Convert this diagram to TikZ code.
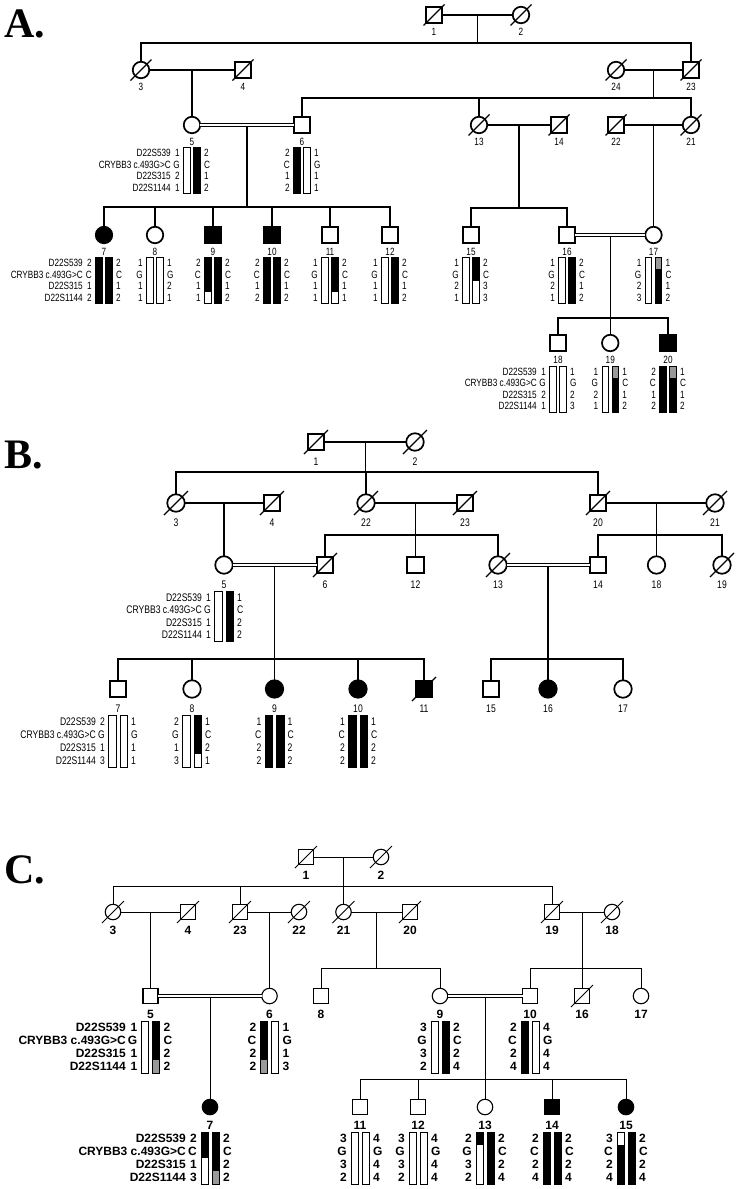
\documentclass[tikz,border=0pt]{standalone}
\usepackage{fontspec}
\setmainfont{Liberation Sans}
\newfontfamily\narf[FakeStretch=0.78]{Liberation Sans}
\newfontfamily\serf{Liberation Serif}
\usetikzlibrary{calc}
\definecolor{hg}{gray}{0.6}
\newcommand\bw{6.5}
\newcommand\bg{3.5}
\newcommand\ad{12}
\newcommand\hp[9]{%
  \foreach \hcol [count=\k from 0] in {#7}{\fill[\hcol] ({#2-\bg/2-\bw},{#3+\k*#4}) rectangle ({#2-\bg/2},{#3+(\k+1)*#4});}
  \foreach \hcol [count=\k from 0] in {#8}{\fill[\hcol] ({#2+\bg/2},{#3+\k*#4}) rectangle ({#2+\bg/2+\bw},{#3+(\k+1)*#4});}
  \draw[barline] ({#2-\bg/2-\bw},#3) rectangle ({#2-\bg/2},{#3+4*#4});
  \draw[barline] ({#2+\bg/2},#3) rectangle ({#2+\bg/2+\bw},{#3+4*#4});
  \foreach \a [count=\k from 0] in {#5}{\node[#9,anchor=east] (#1l\k) at ({#2-\ad},{#3+(\k+0.5)*#4}) {\a};}
  \foreach \a [count=\k from 0] in {#6}{\node[#9,anchor=west] (#1r\k) at ({#2+\ad},{#3+(\k+0.5)*#4}) {\a};}
}
\newcommand\mk[5]{%
  \foreach \a [count=\k from 0] in {D22S539,CRYBB3 c.493G>C,D22S315,D22S1144}{\node[#5,anchor=east] (#1m\k) at ({#2},{#3+(\k+0.5)*#4}) {\a};}
}
\newcommand\decd[3]{\draw[#1] ($(#2)+(-#3,#3)$) -- ($(#2)+(#3,-#3)$);}
\begin{document}
\begin{tikzpicture}[x=1pt,y=-1pt,
  ln/.style={line width=1.2pt},
  lnC/.style={line width=0.9pt},
  barline/.style={line width=0.6pt},
  symA/.style={draw,line width=1.7pt,inner sep=0pt,outer sep=0pt},
  mA/.style={symA,rectangle,minimum size=15.5pt},
  fA/.style={symA,circle,minimum size=16.5pt},
  mB/.style={symA,rectangle,minimum size=16.5pt},
  fB/.style={symA,circle,minimum size=17.5pt},
  symC/.style={draw,line width=1.1pt,inner sep=0pt,outer sep=0pt},
  mC/.style={symC,rectangle,minimum size=15pt},
  fC/.style={symC,circle,minimum size=15.5pt},
  aff/.style={fill=black},
  dbl/.style={double distance=2.2pt,line width=0.7pt},
  dbC/.style={double distance=2pt,line width=0.6pt},
  txA/.style={font=\narf\fontsize{10.5}{11}\selectfont,inner sep=0pt},
  txB/.style={font=\narf\fontsize{11}{11}\selectfont,inner sep=0pt},
  txC/.style={font=\bfseries\fontsize{12}{12}\selectfont,inner sep=0pt},
  big/.style={font=\serf\bfseries\fontsize{42}{42}\selectfont,inner sep=0pt,anchor=base west},
]
\fill[white] (0,0) rectangle (740,1189);
\useasboundingbox (0,0) rectangle (740,1189);

%%%%%%%%%%%%%%%% PANEL A
\node[big] (LA) at (4,37) {A.};
\node[mA] (A1) at (434,15) {};
\node[fA] (A2) at (521,15) {};
\node[fA] (A3) at (141,70) {};
\node[mA] (A4) at (243,70) {};
\node[fA] (A24) at (616,70) {};
\node[mA] (A23) at (691,70) {};
\node[fA] (A5) at (192,125) {};
\node[mA] (A6) at (302,125) {};
\node[fA] (A13) at (479,125) {};
\node[mA] (A14) at (559,125) {};
\node[mA] (A22) at (616,125) {};
\node[fA] (A21) at (691,125) {};
\node[fA,aff] (A7) at (104,235) {};
\node[fA] (A8) at (155,235) {};
\node[mA,aff] (A9) at (213,235) {};
\node[mA,aff] (A10) at (272,235) {};
\node[mA] (A11) at (330,235) {};
\node[mA] (A12) at (390,235) {};
\node[mA] (A15) at (471,235) {};
\node[mA] (A16) at (567,235) {};
\node[fA] (A17) at (653.5,235) {};
\node[mA] (A18) at (558,343) {};
\node[fA] (A19) at (610.25,343) {};
\node[mA,aff] (A20) at (668,343) {};
\foreach \n in {A1,A2,A3,A4,A24,A23,A13,A14,A22,A21} {\decd{ln}{\n}{10.5}}
\foreach \n/\t in {A1/1,A2/2,A3/3,A4/4,A24/24,A23/23,A5/5,A6/6,A13/13,A14/14,A22/22,A21/21,A7/7,A8/8,A9/9,A10/10,A11/11,A12/12,A15/15,A16/16,A17/17,A18/18,A19/19,A20/20}
  {\node[txA] (\n-id) at ($(\n)+(0,17)$) {\t};}
\coordinate (sA1) at (0,43);
\coordinate (sA2) at (0,98);
\coordinate (sA3) at (0,207);
\coordinate (sA4) at (0,208);
\coordinate (sA5) at (0,318);
\draw[ln] (A1) -- (A2);
\coordinate (mA12) at ($(A1)!.5!(A2)$);
\draw[ln] (mA12) -- (mA12 |- sA1);
\draw[ln] (A3.north) |- (A23 |- sA1) -- (A23.north);
\draw[ln] (A3) -- (A4);
\coordinate (mA34) at ($(A3)!.5!(A4)$);
\draw[ln] (mA34) -- (A5.north);
\draw[ln] (A24) -- (A23);
\coordinate (mA2423) at ($(A24)!.5!(A23)$);
\draw[ln] (mA2423) -- (mA2423 |- sA2);
\draw[ln] (A6.north) |- (A21 |- sA2) -- (A21.north);
\draw[ln] (A13.north) -- (A13 |- sA2);
\draw[dbl] (A5) -- (A6);
\coordinate (mA56) at ($(A5)!.5!(A6)+(0,1.8)$);
\draw[ln] (mA56) -- (mA56 |- sA3);
\draw[ln] (A7.north) |- (A12 |- sA3) -- (A12.north);
\foreach \n in {A8,A9,A10,A11} {\draw[ln] (\n.north) -- (\n |- sA3);}
\draw[ln] (A13) -- (A14);
\coordinate (mA1314) at ($(A13)!.5!(A14)$);
\draw[ln] (mA1314) -- (mA1314 |- sA4);
\draw[ln] (A15.north) |- (A16 |- sA4) -- (A16.north);
\draw[ln] (A22) -- (A21);
\coordinate (mA2221) at ($(A22)!.5!(A21)$);
\draw[ln] (mA2221) -- (A17.north);
\draw[dbl] (A16) -- (A17);
\coordinate (mA1617) at ($(A16)!.5!(A17)+(0,1.8)$);
\draw[ln] (mA1617) -- (mA1617 |- sA5);
\draw[ln] (A18.north) |- (A20 |- sA5) -- (A20.north);
\draw[ln] (A19.north) -- (A19 |- sA5);
% haplotypes A
\renewcommand\bw{6.5}\renewcommand\bg{3.5}\renewcommand\ad{12}
\mk{mA5}{171}{147.5}{11.5}{txA}
\hp{hA5}{192}{147.5}{11.5}{1,G,2,1}{2,C,1,2}{white,white,white,white}{black,black,black,black}{txA}
\hp{hA6}{302}{147.5}{11.5}{2,C,1,2}{1,G,1,1}{black,black,black,black}{white,white,white,white}{txA}
\mk{mA7}{83}{257.5}{11.5}{txA}
\hp{hA7}{104}{257.5}{11.5}{2,C,1,2}{2,C,1,2}{black,black,black,black}{black,black,black,black}{txA}
\hp{hA8}{155}{257.5}{11.5}{1,G,1,1}{1,G,2,1}{white,white,white,white}{white,white,white,white}{txA}
\hp{hA9}{213}{257.5}{11.5}{2,C,1,1}{2,C,1,2}{black,black,black,white}{black,black,black,black}{txA}
\hp{hA10}{272}{257.5}{11.5}{2,C,1,2}{2,C,1,2}{black,black,black,black}{black,black,black,black}{txA}
\hp{hA11}{330}{257.5}{11.5}{1,G,1,1}{2,C,1,1}{white,white,white,white}{black,black,black,white}{txA}
\hp{hA12}{390}{257.5}{11.5}{1,G,1,1}{2,C,1,2}{white,white,white,white}{black,black,black,black}{txA}
\hp{hA15}{471}{257.5}{11.5}{1,G,2,1}{2,C,3,3}{white,white,white,white}{black,black,white,white}{txA}
\hp{hA16}{567}{257.5}{11.5}{1,G,2,1}{2,C,1,2}{white,white,white,white}{black,black,black,black}{txA}
\hp{hA17}{653.5}{257.5}{11.5}{1,G,2,3}{1,C,1,2}{white,white,white,white}{hg,black,black,black}{txA}
\mk{mA18}{537}{366}{11.5}{txA}
\hp{hA18}{558}{366}{11.5}{1,G,2,1}{1,G,2,3}{white,white,white,white}{white,white,white,white}{txA}
\hp{hA19}{610.25}{366}{11.5}{1,G,2,1}{1,C,1,2}{white,white,white,white}{hg,black,black,black}{txA}
\hp{hA20}{668}{366}{11.5}{2,C,1,2}{1,C,1,2}{black,black,black,black}{hg,black,black,black}{txA}

%%%%%%%%%%%%%%%% PANEL B
\node[big] (LB) at (4,468) {B.};
\node[mB] (B1) at (316,442) {};
\node[fB] (B2) at (415,442) {};
\node[fB] (B3) at (176,503) {};
\node[mB] (B4) at (272,503) {};
\node[fB] (B22) at (366,503) {};
\node[mB] (B23) at (465,503) {};
\node[mB] (B20) at (598,503) {};
\node[fB] (B21) at (715,503) {};
\node[fB] (B5) at (224,565) {};
\node[mB] (B6) at (325,565) {};
\node[mB] (B12) at (415.5,565) {};
\node[fB] (B13) at (498,565) {};
\node[mB] (B14) at (598,565) {};
\node[fB] (B18) at (656.5,565) {};
\node[fB] (B19) at (722,565) {};
\node[mB] (B7) at (118,689) {};
\node[fB] (B8) at (192,689) {};
\node[fB,aff] (B9) at (274.5,689) {};
\node[fB,aff] (B10) at (358,689) {};
\node[mB,aff] (B11) at (424,689) {};
\node[mB] (B15) at (491,689) {};
\node[fB,aff] (B16) at (548,689) {};
\node[fB] (B17) at (623,689) {};
\foreach \n in {B1,B2,B3,B4,B22,B23,B20,B21,B6,B13,B19,B11} {\decd{ln}{\n}{12}}
\foreach \n/\t in {B1/1,B2/2,B3/3,B4/4,B22/22,B23/23,B20/20,B21/21,B5/5,B6/6,B12/12,B13/13,B14/14,B18/18,B19/19,B7/7,B8/8,B9/9,B10/10,B11/11,B15/15,B16/16,B17/17}
  {\node[txB] (\n-id) at ($(\n)+(0,19.5)$) {\t};}
\coordinate (sB1) at (0,472);
\coordinate (sB2) at (0,535);
\coordinate (sB3) at (0,659);
\draw[ln] (B1) -- (B2);
\coordinate (mB12) at ($(B1)!.5!(B2)$);
\draw[ln] (mB12) -- (mB12 |- sB1);
\draw[ln] (B3.north) |- (B20 |- sB1) -- (B20.north);
\draw[ln] (B22.north) -- (B22 |- sB1);
\draw[ln] (B3) -- (B4);
\coordinate (mB34) at ($(B3)!.5!(B4)$);
\draw[ln] (mB34) -- (B5.north);
\draw[ln] (B22) -- (B23);
\coordinate (mB2223) at ($(B22)!.5!(B23)$);
\draw[ln] (mB2223) -- (B12.north);
\draw[ln] (B6.north) |- (B13 |- sB2) -- (B13.north);
\draw[ln] (B20) -- (B21);
\coordinate (mB2021) at ($(B20)!.5!(B21)$);
\draw[ln] (mB2021) -- (B18.north);
\draw[ln] (B14.north) |- (B19 |- sB2) -- (B19.north);
\draw[dbl] (B5) -- (B6);
\coordinate (mB56) at ($(B5)!.5!(B6)+(0,1.8)$);
\draw[ln] (mB56) -- (B9.north);
\draw[ln] (B7.north) |- (B11 |- sB3) -- (B11.north);
\foreach \n in {B8,B10} {\draw[ln] (\n.north) -- (\n |- sB3);}
\draw[dbl] (B13) -- (B14);
\coordinate (mB1314) at ($(B13)!.5!(B14)+(0,1.8)$);
\draw[ln] (mB1314) -- (B16.north);
\draw[ln] (B15.north) |- (B17 |- sB3) -- (B17.north);
% haplotypes B
\renewcommand\bw{7.5}\renewcommand\bg{4}\renewcommand\ad{13}
\mk{mB5}{202}{591}{12.5}{txB}
\hp{hB5}{224}{591}{12.5}{1,G,1,1}{1,C,2,2}{white,white,white,white}{black,black,black,black}{txB}
\mk{mB7}{96}{715}{13}{txB}
\hp{hB7}{118}{715}{13}{2,G,1,3}{1,G,1,1}{white,white,white,white}{white,white,white,white}{txB}
\hp{hB8}{192}{715}{13}{2,G,1,3}{1,C,2,1}{white,white,white,white}{black,black,black,white}{txB}
\hp{hB9}{274.5}{715}{13}{1,C,2,2}{1,C,2,2}{black,black,black,black}{black,black,black,black}{txB}
\hp{hB10}{358}{715}{13}{1,C,2,2}{1,C,2,2}{black,black,black,black}{black,black,black,black}{txB}

%%%%%%%%%%%%%%%% PANEL C
\node[big] (LC) at (4,883) {C.};
\node[mC] (C1) at (306,857) {};
\node[fC] (C2) at (381,857) {};
\node[fC] (C3) at (113,912) {};
\node[mC] (C4) at (188,912) {};
\node[mC] (C23) at (240,912) {};
\node[fC] (C22) at (299,912) {};
\node[fC] (C21) at (343.5,912) {};
\node[mC] (C20) at (410,912) {};
\node[mC] (C19) at (552,912) {};
\node[fC] (C18) at (612,912) {};
\node[mC] (C5) at (150.5,996) {};
\node[fC] (C6) at (269.5,996) {};
\node[mC] (C8) at (321,996) {};
\node[fC] (C9) at (440,996) {};
\node[mC] (C10) at (530,996) {};
\node[mC] (C16) at (582,996) {};
\node[fC] (C17) at (641,996) {};
\node[fC,aff] (C7) at (210,1107) {};
\node[mC] (C11) at (360,1107) {};
\node[mC] (C12) at (418,1107) {};
\node[fC] (C13) at (485,1107) {};
\node[mC,aff] (C14) at (552,1107) {};
\node[fC,aff] (C15) at (626,1107) {};
\foreach \n in {C1,C2,C3,C4,C23,C22,C21,C20,C19,C18,C16} {\decd{lnC}{\n}{11}}
\foreach \n/\t in {C1/1,C2/2,C3/3,C4/4,C23/23,C22/22,C21/21,C20/20,C19/19,C18/18,C5/5,C6/6,C8/8,C9/9,C10/10,C16/16,C17/17,C7/7,C11/11,C12/12,C13/13,C14/14,C15/15}
  {\node[txC] (\n-id) at ($(\n)+(0,18.5)$) {\t};}
\coordinate (sC1) at (0,886);
\coordinate (sC2) at (0,968);
\coordinate (sC3) at (0,1079);
\draw[lnC] (C1) -- (C2);
\coordinate (mC12) at ($(C1)!.5!(C2)$);
\draw[lnC] (mC12) -- (mC12 |- sC1);
\draw[lnC] (C3.north) |- (C19 |- sC1) -- (C19.north);
\foreach \n in {C23,C21} {\draw[lnC] (\n.north) -- (\n |- sC1);}
\draw[lnC] (C3) -- (C4);
\coordinate (mC34) at ($(C3)!.5!(C4)$);
\draw[lnC] (mC34) -- (C5.north);
\draw[lnC] (C23) -- (C22);
\coordinate (mC2322) at ($(C23)!.5!(C22)$);
\draw[lnC] (mC2322) -- (C6.north);
\draw[lnC] (C21) -- (C20);
\coordinate (mC2120) at ($(C21)!.5!(C20)$);
\draw[lnC] (mC2120) -- (mC2120 |- sC2);
\draw[lnC] (C8.north) |- (C9 |- sC2) -- (C9.north);
\draw[lnC] (C19) -- (C18);
\coordinate (mC1918) at ($(C19)!.5!(C18)$);
\draw[lnC] (mC1918) -- (C16.north);
\draw[lnC] (C10.north) |- (C17 |- sC2) -- (C17.north);
\draw[dbC] (C5) -- (C6);
\coordinate (mC56) at ($(C5)!.5!(C6)+(0,1.6)$);
\draw[lnC] (mC56) -- (C7.north);
\draw[dbC] (C9) -- (C10);
\coordinate (mC910) at ($(C9)!.5!(C10)+(0,1.6)$);
\draw[lnC] (mC910) -- (C13.north);
\draw[lnC] (C11.north) |- (C15 |- sC3) -- (C15.north);
\foreach \n in {C12,C14} {\draw[lnC] (\n.north) -- (\n |- sC3);}
% haplotypes C
\renewcommand\bw{7}\renewcommand\bg{4}\renewcommand\ad{13}
\mk{mC5}{126}{1021}{13}{txC}
\hp{hC5}{150.5}{1021}{13}{1,G,1,1}{2,C,2,2}{white,white,white,white}{black,black,black,hg}{txC}
\hp{hC6}{269.5}{1021}{13}{2,C,2,2}{1,G,1,3}{black,black,black,hg}{white,white,white,white}{txC}
\hp{hC9}{440}{1021}{13}{3,G,3,2}{2,C,2,4}{white,white,white,white}{black,black,black,black}{txC}
\hp{hC10}{530}{1021}{13}{2,C,2,4}{4,G,4,4}{black,black,black,black}{white,white,white,white}{txC}
\mk{mC7}{186}{1132}{13}{txC}
\hp{hC7}{210}{1132}{13}{2,C,1,3}{2,C,2,2}{black,black,white,white}{black,black,black,hg}{txC}
\hp{hC11}{360}{1132}{13}{3,G,3,2}{4,G,4,4}{white,white,white,white}{white,white,white,white}{txC}
\hp{hC12}{418}{1132}{13}{3,G,3,2}{4,G,4,4}{white,white,white,white}{white,white,white,white}{txC}
\hp{hC13}{485}{1132}{13}{2,G,3,2}{2,C,2,4}{black,white,white,white}{black,black,black,black}{txC}
\hp{hC14}{552}{1132}{13}{2,C,2,4}{2,C,2,4}{black,black,black,black}{black,black,black,black}{txC}
\hp{hC15}{626}{1132}{13}{3,C,2,4}{2,C,2,4}{white,black,black,black}{black,black,black,black}{txC}
\end{tikzpicture}
\end{document}
